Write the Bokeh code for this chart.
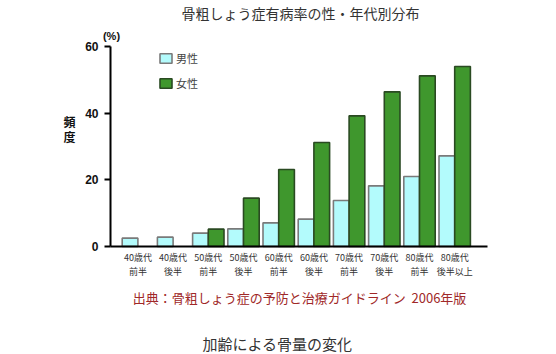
from bokeh.plotting import figure
from bokeh.models import (ColumnDataSource, Label, Legend, LegendItem, FixedTicker,
                          Range1d, LinearAxis)
from bokeh.embed import file_html
from bokeh.resources import INLINE

cat_line1 = ["40歳代", "40歳代", "50歳代", "50歳代", "60歳代",
             "60歳代", "70歳代", "70歳代", "80歳代", "80歳代"]
cat_line2 = ["前半", "後半", "前半", "後半", "前半",
             "後半", "前半", "後半", "前半", "後半以上"]
male = [2.5, 2.8, 4.0, 5.3, 7.1, 8.2, 13.8, 18.2, 21.0, 27.2]
female = [0, 0, 5.2, 14.5, 23.1, 31.2, 39.2, 46.4, 51.2, 54.0]
y_ticks = [0, 20, 40, 60]

JP = "Noto Sans CJK JP"
LAT = "Liberation Sans"

W, H = 556, 354
# frame covers the whole canvas; axes are placed inside at fixed locations
px_per_cat = 35.2
cx0 = 137.4        # canvas x of first category centre
cy0 = 246.0        # canvas y of value 0
px_per_val = 200.0 / 60.0

x_start = -cx0 / px_per_cat
x_end = (W - cx0) / px_per_cat
y_end = cy0 / px_per_val
y_start = -(H - cy0) / px_per_val

x_lo, x_hi = -0.778, 9.93

p = figure(width=W, height=H, output_backend="svg", toolbar_location=None,
           x_range=Range1d(x_start, x_end), y_range=Range1d(y_start, y_end),
           min_border=0)
p.background_fill_color = "white"
p.border_fill_color = "white"
p.outline_line_color = None
p.grid.visible = False

xi = list(range(len(cat_line1)))
off = 0.223
w = 0.446
ms = ColumnDataSource(dict(x=[i - off for i in xi], top=male))
fx = [i + off for i, v in zip(xi, female) if v > 0]
fv = [v for v in female if v > 0]
fs = ColumnDataSource(dict(x=fx, top=fv))

rm = p.vbar(x="x", top="top", width=w, source=ms, fill_color="#b3fbfc",
            line_color="#7a7a7a", line_width=1.6)
rf = p.vbar(x="x", top="top", width=w, source=fs, fill_color="#3f972d",
            line_color="#2a4a22", line_width=1.6)

def style_xaxis(ax, labels, standoff):
    ax.fixed_location = 0
    ax.bounds = (x_lo, x_hi)
    ax.ticker = FixedTicker(ticks=xi)
    ax.major_label_overrides = {i: c for i, c in zip(xi, labels)}
    ax.major_tick_line_color = None
    ax.minor_tick_line_color = None
    ax.major_label_text_font = JP
    ax.major_label_text_font_size = "9px"
    ax.major_label_text_color = "#333333"
    ax.major_label_standoff = standoff

# x axis (first label line)
xa = p.xaxis[0]
style_xaxis(xa, cat_line1, -2)
xa.axis_line_width = 2
xa.axis_line_color = "black"

# second label line
xa2 = LinearAxis()
style_xaxis(xa2, cat_line2, 12)
xa2.axis_line_color = None
p.add_layout(xa2, "below")

# y axis
ya = p.yaxis[0]
ya.fixed_location = x_lo
ya.bounds = (0, 60)
ya.ticker = FixedTicker(ticks=y_ticks)
ya.minor_tick_line_color = None
ya.axis_line_width = 2
ya.axis_line_color = "black"
ya.major_tick_line_width = 2
ya.major_tick_out = 6
ya.major_tick_in = 0
ya.major_label_text_font = LAT
ya.major_label_text_font_style = "bold"
ya.major_label_text_font_size = "12px"
ya.major_label_text_color = "#111111"
ya.major_label_standoff = 6

legend = Legend(items=[LegendItem(label="男性", renderers=[rm]),
                       LegendItem(label="女性", renderers=[rf])],
                location=(158, H - 91), padding=0, margin=0, spacing=9,
                glyph_width=15, glyph_height=12, label_standoff=3,
                label_text_font=JP, label_text_font_size="11px",
                label_height=12, border_line_color=None, background_fill_alpha=0)
p.add_layout(legend)

def lab(cx, cy, t, size, color="#333333", font=JP, style="normal", align="center"):
    p.add_layout(Label(x=cx, y=H - cy, x_units="screen", y_units="screen", text=t,
                       text_font=font, text_font_size=size, text_color=color,
                       text_font_style=style, text_align=align, text_baseline="middle"))

lab(300, 12, "骨粗しょう症有病率の性・年代別分布", "14px")
lab(111, 35, "(%)", "11px", color="#111111", font=LAT, style="bold")
lab(69, 121, "頻", "12px", color="#111111", style="bold")
lab(69, 136, "度", "12px", color="#111111", style="bold")
lab(299, 297, "出典：骨粗しょう症の予防と治療ガイドライン\u00a0\u00a02006年版", "13px", color="#a02828")
lab(277, 343, "加齢による骨量の変化", "15px")

open("out.html", "w").write(file_html(p, INLINE))
